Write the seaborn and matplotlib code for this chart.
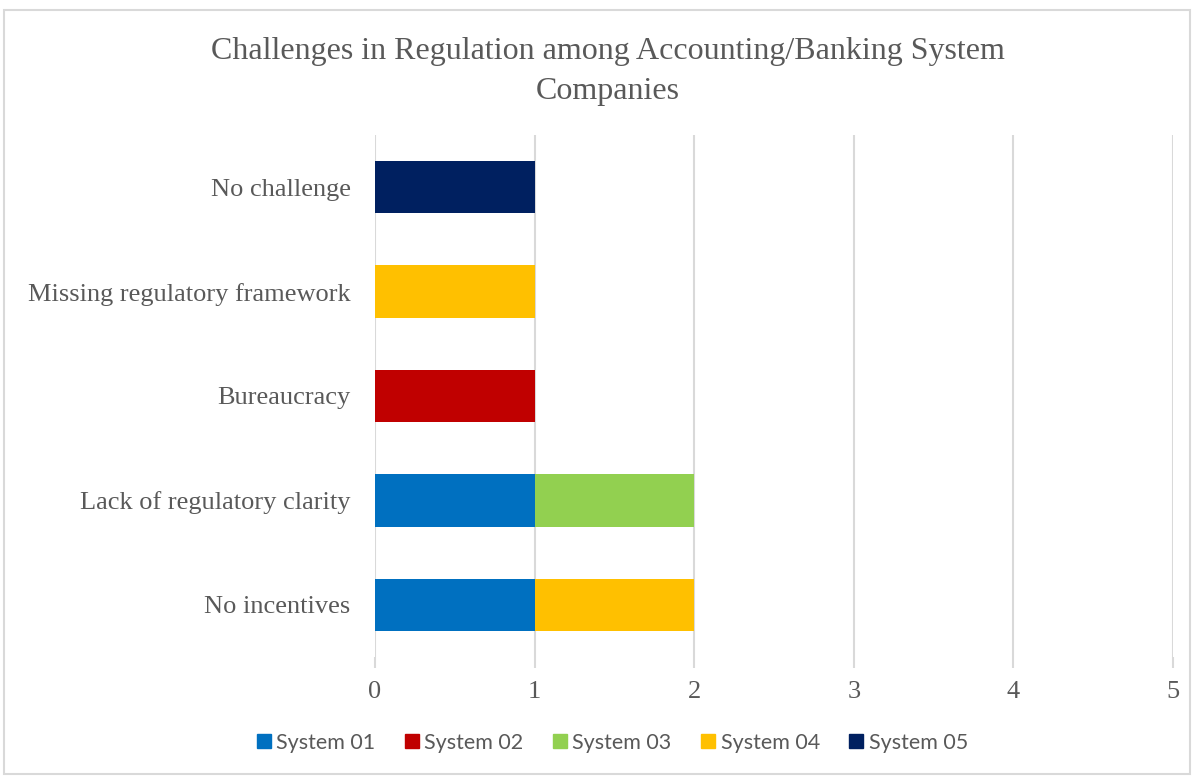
import matplotlib
matplotlib.use("Agg")
import matplotlib.pyplot as plt
from matplotlib.patches import Rectangle
from matplotlib.lines import Line2D
import seaborn as sns
import pandas as pd
import numpy as np

# data (top category first, as in the chart)
categories = ["No challenge", "Missing regulatory framework", "Bureaucracy",
              "Lack of regulatory clarity", "No incentives"]
series = ["System 01", "System 02", "System 03", "System 04", "System 05"]
system_01 = [0, 0, 0, 1, 1]
system_02 = [0, 0, 1, 0, 0]
system_03 = [0, 0, 0, 1, 0]
system_04 = [0, 1, 0, 0, 1]
system_05 = [1, 0, 0, 0, 0]
colors = ["#0070C0", "#C00000", "#92D050", "#FFC000", "#002060"]
x_ticks = [0, 1, 2, 3, 4, 5]

sns.set_style("white")
plt.rcParams["font.family"] = ["Liberation Serif", "DejaVu Serif"]

values = np.array([system_01, system_02, system_03, system_04, system_05])
cum = values.cumsum(axis=0)

fig = plt.figure(figsize=(11.97, 7.76), dpi=100)
ax = fig.add_axes([375 / 1197, 1 - 657 / 776, (1173 - 375) / 1197, (657 - 135) / 776])
ax.set_axisbelow(True)

# stacked bars: draw cumulative totals from the last series down
for i in range(len(series) - 1, -1, -1):
    df = pd.DataFrame({"category": categories, "value": cum[i]})
    sns.barplot(data=df, x="value", y="category", order=categories, color=colors[i],
                width=0.5, saturation=1, ax=ax, linewidth=0, zorder=3)

ax.set_xlim(0, 5)
ax.set_ylim(4.5, -0.5)
ax.set_xticks(x_ticks)
ax.set_xlabel("")
ax.set_ylabel("")
ax.grid(axis="x", color="#D9D9D9", linewidth=1.5, zorder=0)
ax.grid(axis="y", visible=False)
for s in ax.spines.values():
    s.set_visible(False)
ax.tick_params(axis="x", bottom=True, length=8, width=1.5, color="#D9D9D9", pad=9,
               labelsize=19, labelcolor="#595959")
ax.tick_params(axis="y", left=False, length=0, pad=17.5, labelsize=19, labelcolor="#595959")

fig.text(608 / 1197, 1 - 71 / 776,
         "Challenges in Regulation among Accounting/Banking System\nCompanies",
         ha="center", va="center", fontsize=23, color="#595959", linespacing=1.5)

handles = [Line2D([], [], marker="s", linestyle="", markersize=10.5,
                  markerfacecolor=c, markeredgecolor=c) for c in colors]
fig.legend(handles, series, loc="center", bbox_to_anchor=(612 / 1197, 1 - 743 / 776),
           ncol=5, frameon=False, handlelength=0.7, handletextpad=0.25,
           columnspacing=1.32, prop={"family": "Lato", "size": 15.5},
           labelcolor="#595959")

fig.add_artist(Rectangle((4 / 1197, 0.002), 1186 / 1197, 1 - 10 / 776 - 0.002,
                         transform=fig.transFigure, fill=False,
                         edgecolor="#D9D9D9", linewidth=1.5))

fig.savefig("out.png", dpi=100)
